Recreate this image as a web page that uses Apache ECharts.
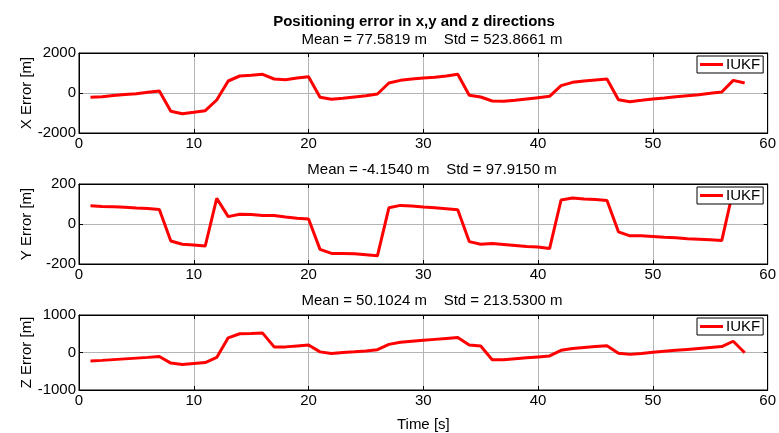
<!DOCTYPE html>
<html>
<head>
<meta charset="utf-8">
<script src="https://cdn.jsdelivr.net/npm/echarts@6/dist/echarts.min.js"></script>
<style>
  html, body { margin: 0; padding: 0; background: #fff; }
  #chart { width: 779px; height: 433px; }
</style>
</head>
<body>
<div id="chart"></div>
<script>
// time axis (s)
const timeS = [];
for (let t = 1; t <= 58; t++) timeS.push(t);

// position errors (m)
const xErr = [-217, -183, -130, -80, -40, 40, 100, -917, -1033, -967,
  -883, -350, 600, 850, 883, 933, 700, 667, 750, 817,
  -217, -317, -267, -200, -133, -50, 500, 633, 700, 750,
  783, 850, 933, -117, -200, -400, -417, -367, -300, -233,
  -167, 367, 533, 600, 650, 700, -333, -433, -367, -300,
  -250, -183, -133, -83, -17, 50, 633, 500];
const yErr = [91, 88, 86, 84, 80, 77, 72, -85, -101, -105,
  -110, 128, 37, 49, 47, 42, 42, 35, 29, 25,
  -127, -147, -147, -149, -154, -159, 81, 93, 90, 85,
  81, 76, 71, -88, -101, -98, -103, -108, -113, -115,
  -123, 120, 130, 125, 122, 117, -39, -59, -59, -62,
  -66, -69, -74, -76, -79, -83, 170, 150];
const zErr = [-225, -210, -190, -170, -150, -130, -108, -283, -317, -292,
  -267, -133, 392, 500, 508, 517, 150, 150, 175, 200,
  17, -25, 0, 17, 42, 75, 217, 275, 300, 325,
  350, 375, 400, 200, 175, -192, -192, -167, -142, -117,
  -92, 58, 108, 133, 158, 183, -17, -50, -25, 8,
  33, 58, 83, 108, 133, 158, 300, -8];

const panels = [
  { name: 'X Error [m]', data: xErr, lim: 2000, sub: 'Mean = 77.5819 m    Std = 523.8661 m' },
  { name: 'Y Error [m]', data: yErr, lim: 200, sub: 'Mean = -4.1540 m    Std = 97.9150 m' },
  { name: 'Z Error [m]', data: zErr, lim: 1000, sub: 'Mean = 50.1024 m    Std = 213.5300 m' },
];
const gridTops = [53, 184, 315];
const gridH = 80;
const subTops = [27, 157, 288];

const font = 'Liberation Sans, Arial, sans-serif';
const chart = echarts.init(document.getElementById('chart'));

const grid = [], xAxis = [], yAxis = [], series = [], legend = [];
const title = [{
  text: 'Positioning error in x,y and z directions',
  left: 409, top: 9, textAlign: 'center',
  textStyle: { fontFamily: font, fontSize: 15, fontWeight: 'bold', color: '#000' },
}];

panels.forEach((p, i) => {
  grid.push({ left: 79, right: 10, top: gridTops[i], height: gridH,
    show: true, borderColor: '#000', borderWidth: 1 });
  title.push({
    text: p.sub, left: 427, top: subTops[i], textAlign: 'center',
    textStyle: { fontFamily: font, fontSize: 15, fontWeight: 'normal', color: '#000' },
  });
  // bottom x axis with labels and grid lines
  xAxis.push({
    gridIndex: i, type: 'value', min: 0, max: 60, interval: 10,
    name: i === 2 ? 'Time [s]' : '', nameLocation: 'middle', nameGap: 27,
    nameTextStyle: { fontFamily: font, fontSize: 15, color: '#000' },
    axisLine: { show: true, onZero: false, lineStyle: { color: '#000' } },
    axisTick: { inside: true, length: 4, lineStyle: { color: '#000' } },
    axisLabel: { fontFamily: font, fontSize: 15, color: '#000', margin: 3 },
    splitLine: { show: true, lineStyle: { color: '#b4b4b4', width: 1 } },
  });
  // top x axis, ticks only
  xAxis.push({
    gridIndex: i, type: 'value', min: 0, max: 60, interval: 10, position: 'top',
    axisLine: { show: true, onZero: false, lineStyle: { color: '#000' } },
    axisTick: { inside: true, length: 4, lineStyle: { color: '#000' } },
    axisLabel: { show: false }, splitLine: { show: false },
  });
  yAxis.push({
    gridIndex: i, type: 'value', min: -p.lim, max: p.lim, interval: p.lim,
    name: p.name, nameLocation: 'middle', nameGap: 45, nameMoveOverlap: false,
    nameTextStyle: { fontFamily: font, fontSize: 15, color: '#000' },
    axisLine: { show: true, onZero: false, lineStyle: { color: '#000' } },
    axisTick: { inside: true, length: 4, lineStyle: { color: '#000' } },
    axisLabel: { fontFamily: font, fontSize: 15, color: '#000', margin: 3,
      formatter: (v) => String(v) },
    splitLine: { show: true, lineStyle: { color: '#b4b4b4', width: 1 } },
  });
  yAxis.push({
    gridIndex: i, type: 'value', min: -p.lim, max: p.lim, interval: p.lim, position: 'right',
    axisLine: { show: true, onZero: false, lineStyle: { color: '#000' } },
    axisTick: { inside: true, length: 4, lineStyle: { color: '#000' } },
    axisLabel: { show: false }, splitLine: { show: false },
  });
  series.push({
    name: 'IUKF', type: 'line', xAxisIndex: i * 2, yAxisIndex: i * 2,
    data: timeS.map((t, k) => [t, p.data[k]]),
    showSymbol: false, symbol: 'none',
    lineStyle: { color: '#ff0000', width: 3 }, itemStyle: { color: '#ff0000' },
    animation: false,
  });
  legend.push({
    data: [{ name: 'IUKF', icon: 'rect' }],
    left: 697, top: gridTops[i] + 3,
    itemWidth: 23, itemHeight: 3, itemGap: 4,
    padding: [1, 3, 1, 3],
    backgroundColor: '#fff', borderColor: '#000', borderWidth: 1,
    selectedMode: false,
    textStyle: { fontFamily: font, fontSize: 15, color: '#000', padding: [0, 0, 0, -2] },
  });
});

chart.setOption({
  animation: false,
  title, grid, xAxis, yAxis, series, legend,
});
</script>
</body>
</html>
